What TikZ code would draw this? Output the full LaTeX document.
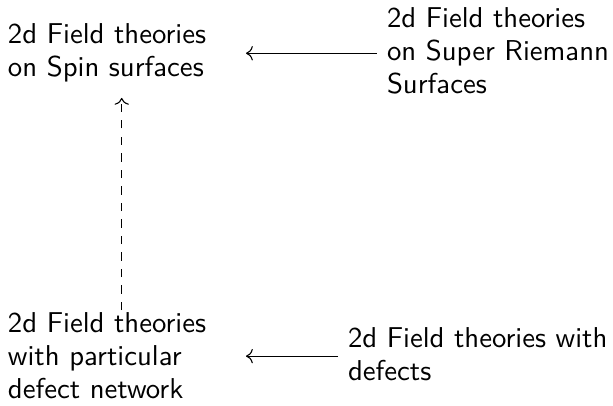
\documentclass[tikz,border=0pt]{standalone}
\usetikzlibrary{calc,cd}
\begin{document}
\begin{tikzpicture}[x=0.363636pt,y=-0.363636pt,
  every node/.style={inner sep=0pt, outer sep=0pt, align=left, anchor=north west,
    font=\sffamily\fontsize{10.45}{12}\selectfont},
  arr/.style={-{cm to}, line width=0.4pt}]
\useasboundingbox (0,0) rectangle (613,405);
\node (TL) at (8,24) {2d Field theories\\on Spin surfaces};
\node (TR) at (387,8) {2d Field theories\\on Super Riemann\\Surfaces};
\node (BL) at (8,313) {2d Field theories\\with particular\\defect network};
\node (BR) at (348,328) {2d Field theories with\\defects};
\draw[arr] ($(TR.west |- TL.east)+(-10.5,0)$) -- ($(TL.east -| TL.west)+(238,0)$);
\draw[arr] ($(BR.west |- BL.east)+(-10,0)$) -- ($(BL.east -| BL.west)+(238,0)$);
\draw[arr, dashed] ($(BL.north west)+(113.7,-3)$) -- ($(TL.south west)+(113.7,15.4)$);
\end{tikzpicture}
\end{document}
